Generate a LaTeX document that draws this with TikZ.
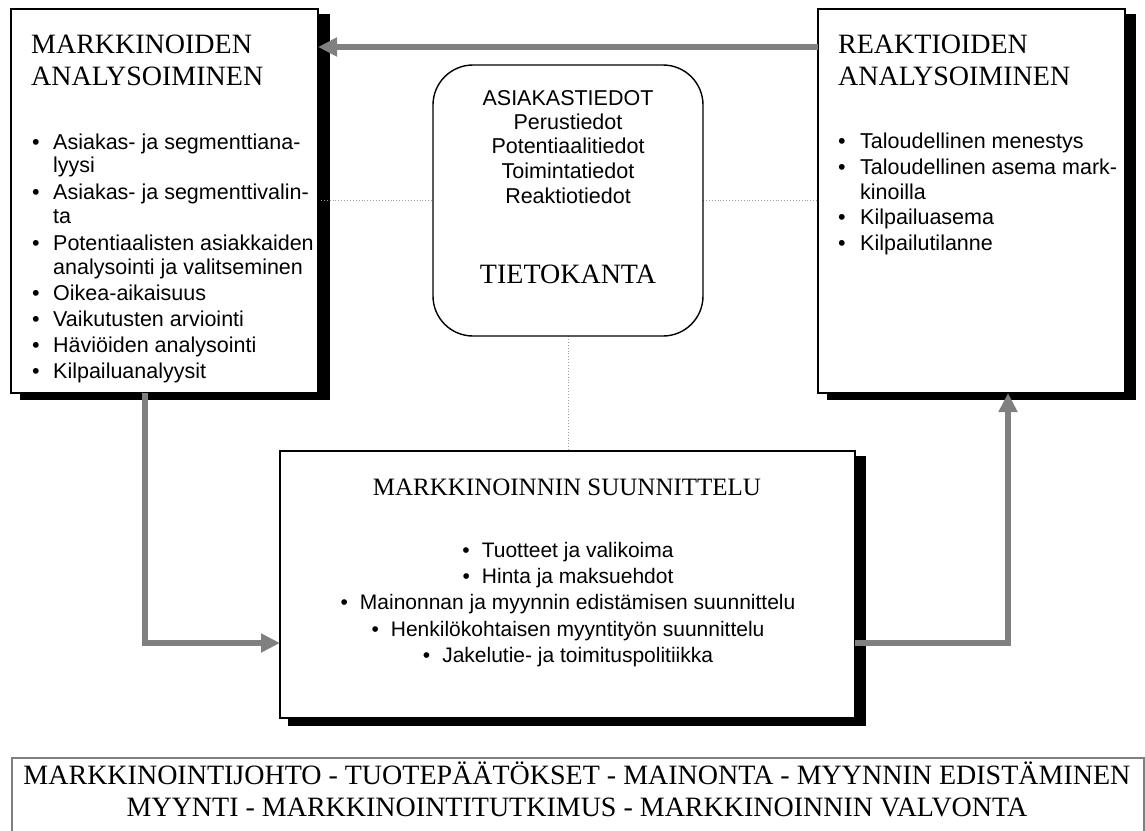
\documentclass[tikz,border=0pt]{standalone}
\usepackage{fontspec}
\setmainfont{Liberation Serif}
\newfontfamily\arial{Liberation Sans}
\usetikzlibrary{arrows.meta}
\pgfdeclarelayer{background}
\pgfsetlayers{background,main}
\definecolor{flowgray}{HTML}{808080}
\definecolor{linkgray}{HTML}{A0A0A0}

\begin{document}
\begin{tikzpicture}[x=1pt,y=-1pt,
  box/.style={draw=black, line width=1.4pt, fill=white, inner sep=0pt, outer sep=0pt, anchor=north west},
  shadowfill/.style={fill=black},
  head/.style={font=\fontsize{28}{32}\selectfont, anchor=base west, inner sep=0pt},
  txt/.style={font=\arial\fontsize{21.5}{25}\selectfont, anchor=base west, inner sep=0pt},
  ctxt/.style={font=\arial\fontsize{21.5}{25}\selectfont, anchor=base, inner sep=0pt},
  bul/.style={font=\arial\fontsize{21.5}{25}\selectfont, anchor=base, inner sep=0pt},
  flow/.style={draw=flowgray, line width=5.5pt, -{Triangle[length=19pt,width=18pt]}},
  link/.style={draw=linkgray, line width=0.9pt, dotted}
]
\clip (0,0) rectangle (1145,830);

% --- the three framed boxes and the database box ---
\node[box, minimum width=307pt, minimum height=384pt] (ma) at (11,9) {};
\node[box, minimum width=307pt, minimum height=384pt] (ra) at (818,9) {};
\node[box, minimum width=575pt, minimum height=267pt] (ms) at (280,451) {};
\node[box, rounded corners=40pt, minimum width=270pt, minimum height=271pt] (db) at (433,65) {};

% page ground, drop shadows and dotted links behind the boxes
\begin{pgfonlayer}{background}
  \fill[white] (0,0) rectangle (1145,830);
  \fill[shadowfill] ([shift={(9,5)}]ma.north west) rectangle ([shift={(12,7)}]ma.south east);
  \fill[shadowfill] ([shift={(9,5)}]ra.north west) rectangle ([shift={(11,7)}]ra.south east);
  \fill[shadowfill] ([shift={(8,5)}]ms.north west) rectangle ([shift={(11,8)}]ms.south east);
  \coordinate (lk) at (0,200);
  \draw[link] (ma.east |- lk) -- (db.west |- lk);
  \draw[link] (db.east |- lk) -- (ra.west |- lk);
  \draw[link] (db.south) -- (ms.north -| db.south);
\end{pgfonlayer}

% --- market analysis ---
\node[head] (ma1) at (31,53) {MARKKINOIDEN};
\node[head] (ma2) at (31,85) {ANALYSOIMINEN};
\foreach \y/\t [count=\i] in {149/Asiakas- ja segmenttiana-, 199/Asiakas- ja segmenttivalin-,
    250/Potentiaalisten asiakkaiden, 300/Oikea-aikaisuus, 326/Vaikutusten arviointi,
    352/Häviöiden analysointi, 378/Kilpailuanalyysit}{
  \node[bul] (mab\i) at (36,\y) {•};
  \node[txt] (mai\i) at (53,\y) {\t};
}
\node[txt] (mac1) at (53,172) {lyysi};
\node[txt] (mac2) at (53,223) {ta};
\node[txt] (mac3) at (53,274) {analysointi ja valitseminen};

% --- reaction analysis ---
\node[head] (ra1) at (838,53) {REAKTIOIDEN};
\node[head] (ra2) at (838,85) {ANALYSOIMINEN};
\foreach \y/\t [count=\i] in {148/Taloudellinen menestys, 174/Taloudellinen asema mark-,
    224/Kilpailuasema, 250/Kilpailutilanne}{
  \node[bul] (rab\i) at (842,\y) {•};
  \node[txt] (rai\i) at (860,\y) {\t};
}
\node[txt] (rac1) at (860,199) {kinoilla};

% --- customer database ---
\node[ctxt] (db1) at (568,105) {ASIAKASTIEDOT};
\node[ctxt] (db2) at (568,129) {Perustiedot};
\node[ctxt] (db3) at (568,153) {Potentiaalitiedot};
\node[ctxt] (db4) at (568,178) {Toimintatiedot};
\node[ctxt] (db5) at (568,203) {Reaktiotiedot};
\node[font=\fontsize{28}{32}\selectfont, anchor=base, inner sep=0pt] (dbt) at (568,283) {TIETOKANTA};

% --- marketing planning ---
\node[font=\fontsize{25}{32}\selectfont, anchor=base, inner sep=0pt] (mst) at (567,495) {MARKKINOINNIN SUUNNITTELU};
\foreach \y/\t [count=\i] in {557/Tuotteet ja valikoima, 583/Hinta ja maksuehdot,
    609/Mainonnan ja myynnin edistämisen suunnittelu,
    636/Henkilökohtaisen myyntityön suunnittelu, 662/Jakelutie- ja toimituspolitiikka}{
  \node[ctxt, font=\arial\fontsize{21}{25}\selectfont] (msi\i) at (568,\y) {•\hspace{12pt}\t};
}

% --- functions strip ---
\node[draw=flowgray, line width=1.8pt, inner sep=0pt, anchor=north west,
      minimum width=1132pt, minimum height=100pt] (fn) at (11,757) {};
\node[font=\fontsize{28}{32}\selectfont, anchor=base, inner sep=0pt] (fn1) at (577,784)
  {MARKKINOINTIJOHTO - TUOTEPÄÄTÖKSET - MAINONTA - MYYNNIN EDISTÄMINEN};
\node[font=\fontsize{28}{32}\selectfont, anchor=base, inner sep=0pt] (fn2) at (577,816)
  {MYYNTI - MARKKINOINTITUTKIMUS - MARKKINOINNIN VALVONTA};

% --- flow arrows ---
\draw[flow] ([shift={(0,38)}]ra.north west) -- ([shift={(0,38)}]ma.north east);
\coordinate (jl) at (145,643);
\coordinate (jr) at (1008,643);
\draw[flow] (ma.south west -| jl) -- (jl) -- (ms.west |- jl);
\draw[flow] (ms.east |- jr) -- (jr) -- (ra.south west -| jr);
\end{tikzpicture}
\end{document}
